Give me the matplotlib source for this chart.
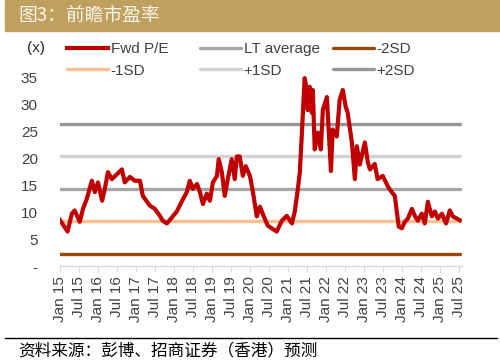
import matplotlib
matplotlib.use("Agg")
import matplotlib.pyplot as plt
import matplotlib.dates as mdates
import pandas as pd

# Fwd P/E
dates = ["2015-01-01", "2015-03-15", "2015-04-25", "2015-05-22", "2015-07-10", "2015-08-10",
         "2015-09-15", "2015-11-03", "2015-12-02", "2016-01-01", "2016-02-10", "2016-03-07",
         "2016-04-06", "2016-05-13", "2016-07-01", "2016-08-18", "2016-09-15", "2016-11-03",
         "2016-12-20", "2017-02-08", "2017-03-07", "2017-05-13", "2017-07-01", "2017-08-18",
         "2017-09-15", "2017-10-25", "2017-12-20", "2018-01-28", "2018-03-15", "2018-05-04",
         "2018-06-02", "2018-07-01", "2018-08-10", "2018-09-07", "2018-10-06", "2018-11-13",
         "2018-12-12", "2019-01-10", "2019-02-18", "2019-03-07", "2019-04-06", "2019-05-04",
         "2019-06-02", "2019-07-10", "2019-08-08", "2019-08-28", "2019-09-25", "2019-10-25",
         "2019-11-22", "2020-01-01", "2020-01-30", "2020-03-07", "2020-04-06", "2020-05-22",
         "2020-06-20", "2020-07-28", "2020-09-15", "2020-11-03", "2020-12-20", "2021-02-08",
         "2021-03-07", "2021-04-06", "2021-04-25", "2021-05-13", "2021-06-10", "2021-07-01",
         "2021-07-10", "2021-07-29", "2021-08-18", "2021-08-28", "2021-09-15", "2021-10-15",
         "2021-11-13", "2021-12-02", "2022-01-10", "2022-01-20", "2022-02-18", "2022-03-07",
         "2022-04-15", "2022-05-13", "2022-06-12", "2022-07-10", "2022-07-29", "2022-09-07",
         "2022-10-06", "2022-10-25", "2022-11-22", "2023-01-10", "2023-02-08", "2023-02-28",
         "2023-04-15", "2023-05-13", "2023-07-01", "2023-08-18", "2023-09-25", "2023-10-25",
         "2023-11-13", "2023-12-02", "2024-01-01", "2024-01-29", "2024-02-28", "2024-04-06",
         "2024-05-04", "2024-06-02", "2024-07-10", "2024-08-08", "2024-09-07", "2024-10-15",
         "2024-11-13", "2024-12-12", "2025-01-20", "2025-02-28", "2025-04-06", "2025-05-04",
         "2025-06-12", "2025-07-10"]
fwd_pe = [8.5, 6.4, 9.7, 10.3, 8.2, 10.6,
          12.4, 15.8, 13.7, 15.5, 12.1, 14.3,
          17.4, 16.1, 17.0, 17.9, 15.5, 16.5,
          15.8, 15.8, 13.0, 11.2, 10.6, 9.3,
          8.4, 7.9, 9.2, 10.1, 11.9, 13.7,
          15.8, 14.3, 15.2, 13.7, 11.5, 13.4,
          12.1, 15.5, 16.7, 19.8, 17.4, 13.0,
          16.1, 19.8, 16.1, 20.3, 20.3, 16.7,
          18.5, 16.7, 13.7, 9.2, 11.0, 8.8,
          7.5, 7.0, 6.4, 8.4, 9.3, 7.9,
          10.1, 14.3, 17.4, 24.0, 34.8, 32.6,
          28.9, 33.2, 28.4, 32.6, 21.6, 24.7,
          21.6, 28.9, 31.3, 27.7, 17.6, 25.3,
          24.0, 30.8, 32.6, 29.5, 28.4, 22.9,
          16.1, 22.2, 18.8, 22.9, 19.2, 17.9,
          18.9, 16.1, 16.7, 14.8, 13.7, 13.0,
          10.1, 7.3, 7.0, 8.2, 8.8, 10.6,
          9.3, 8.4, 9.7, 7.9, 11.9, 9.2,
          10.1, 8.8, 9.7, 7.9, 10.3, 9.2,
          8.8, 8.5]

band_names = ["LT average", "-2SD", "-1SD", "+1SD", "+2SD"]
band_values = [14.3, 2.3, 8.3, 20.3, 26.3]
band_colors = ["#A6A6A6", "#974806", "#FAC090", "#D3D3D3", "#969696"]

plt.rcParams["font.family"] = ["Liberation Sans", "DejaVu Sans"]
cjk = ["Noto Sans CJK SC", "DejaVu Sans"]

x = pd.to_datetime(dates)
fig = plt.figure(figsize=(5, 3.64), dpi=100)
ax = fig.add_axes([0.12, 0.269, 0.804, 0.5267])

handles = {}
line_start = pd.Timestamp("2015-01-01")
line_end = pd.Timestamp("2025-07-12")
for name, v, c in zip(band_names, band_values, band_colors):
    h, = ax.plot([line_start, line_end], [v, v], color=c, lw=2.4,
                 solid_capstyle="round", label=name)
    handles[name] = h
h, = ax.plot(x, fwd_pe, color="#C00000", lw=3.0, solid_joinstyle="round",
             label="Fwd P/E")
handles["Fwd P/E"] = h

ax.set_xlim(pd.Timestamp("2015-01-01"), pd.Timestamp("2025-08-01"))
ax.set_ylim(0, 35.5)
ax.set_yticks([0, 5, 10, 15, 20, 25, 30, 35])
ax.set_yticklabels(["-", "5", "10", "15", "20", "25", "30", "35"])
ax.xaxis.set_major_locator(mdates.MonthLocator(bymonth=[1, 7]))
ax.xaxis.set_major_formatter(mdates.DateFormatter("%b %y"))
ax.tick_params(axis="x", rotation=90, labelsize=11, colors="#D9D9D9",
               labelcolor="#404040", length=4, width=0.8, pad=3)
ax.tick_params(axis="y", length=0, labelsize=11, labelcolor="#404040", pad=16)
for s in ["top", "right", "left"]:
    ax.spines[s].set_visible(False)
ax.spines["bottom"].set_color("#D9D9D9")
ax.spines["bottom"].set_linewidth(1.0)

# legend: three columns placed like the original
cols = [(["Fwd P/E", "-1SD"], 67), (["LT average", "+1SD"], 200), (["-2SD", "+2SD"], 333)]
for names, px in cols:
    leg = fig.legend([handles[n] for n in names], names, loc="center left",
                     bbox_to_anchor=(px / 500, 1 - 60 / 364), frameon=False,
                     fontsize=11, handlelength=2.7, handletextpad=0.15,
                     labelspacing=0.5, borderpad=0, borderaxespad=0)
    for t in leg.get_texts():
        t.set_color("#404040")
fig.text(36 / 500, 1 - 48 / 364, "(x)", fontsize=11, ha="center", va="center",
         color="#262626")

# title bar
fig.patches.append(plt.Rectangle((5 / 500, 1 - 31 / 364), 495 / 500, 31 / 364,
                                 transform=fig.transFigure, color="#BFA05F", zorder=0))
fig.text(18 / 500, 1 - 15 / 364, "图3：前瞻市盈率", fontsize=13.5, color="#FBF6EA",
         ha="left", va="center", family=cjk, weight="light")

# source
fig.add_artist(plt.Line2D([5 / 500, 497 / 500], [1 - 338 / 364, 1 - 338 / 364],
                          transform=fig.transFigure, color="black", lw=1.0))
fig.text(18 / 500, 1 - 351 / 364, "资料来源：彭博、招商证券（香港）预测", fontsize=12,
         color="black", ha="left", va="center", family=cjk, style="italic")

fig.savefig("out.png", dpi=100)
